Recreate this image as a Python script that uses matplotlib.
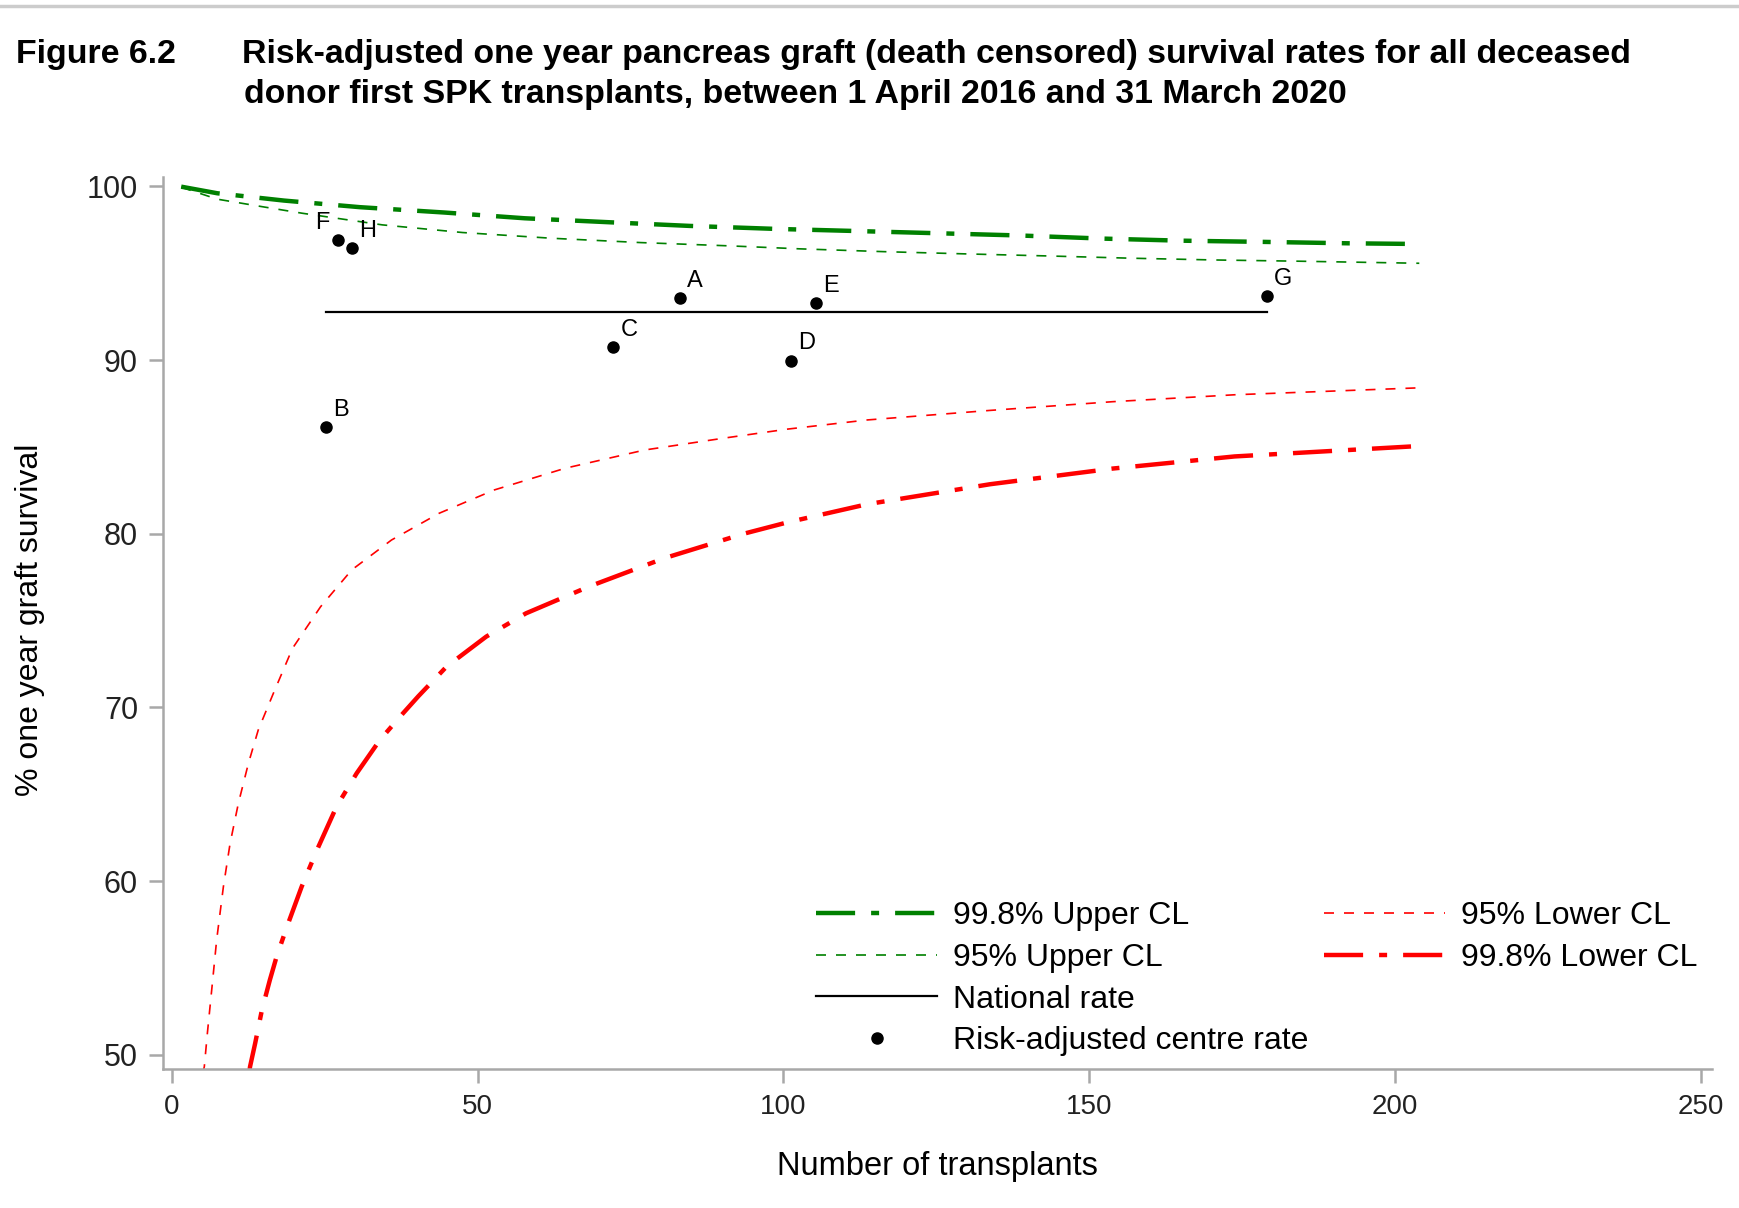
import matplotlib
matplotlib.use("Agg")
import matplotlib.pyplot as plt
from matplotlib.lines import Line2D

plt.rcParams['font.family'] = ['Liberation Sans', 'DejaVu Sans']

# centre results (number of transplants, risk-adjusted % survival)
centres = ['A', 'B', 'C', 'D', 'E', 'F', 'G', 'H']
centre_n = [83.1, 25.2, 72.2, 101.2, 105.3, 27.2, 179.1, 29.4]
centre_rate = [93.56, 86.13, 90.74, 89.97, 93.27, 96.91, 93.69, 96.47]
national_rate = 92.79

# funnel limits
upper998_n = [1.5, 7.4, 18.3, 30.7, 44.6, 57.7, 71.6, 84.7, 98.6, 111.5, 125.1, 138.6, 152.2, 165.1, 178.7, 192.3, 204]
upper998_y = [99.98, 99.6, 99.18, 98.80, 98.49, 98.16, 97.93, 97.72, 97.55, 97.43, 97.30, 97.17, 96.99, 96.87, 96.80, 96.72, 96.68]

upper95_n = [1.5, 7.4, 14.7, 21.3, 34.4, 47.5, 62.1, 76.7, 91.3, 102.7, 116.3, 129.8, 143.4, 157.0, 170.5, 184.1, 204]
upper95_y = [99.95, 99.26, 98.83, 98.45, 97.78, 97.34, 97.01, 96.76, 96.57, 96.40, 96.24, 96.11, 95.99, 95.86, 95.76, 95.69, 95.57]

lower95_n = [5.0, 5.28, 5.78, 6.49, 7.3, 8.4, 9.5, 10.85, 12.5, 14.1, 16.5, 19.7, 24.3, 29.4, 35.9,
             43.7, 52.7, 64.3, 77.3, 90.2, 100.6, 113.7, 133.8, 153.8, 173.8, 204]
lower95_y = [48.9, 49.32, 51.24, 53.74, 56.62, 59.68, 62.18, 64.48, 66.79, 68.7, 70.75, 73.4, 75.8, 77.92, 79.64,
             81.18, 82.52, 83.77, 84.82, 85.50, 86.02, 86.55, 87.1, 87.6, 88.0, 88.4]

lower998_n = [12.6, 12.76, 13.6, 14.7, 16.0, 17.1, 18.8, 21.2, 23.7, 26.9, 30.2, 34.0, 37.8, 40.3, 44.9,
              51.4, 57.9, 68.2, 80.5, 93.5, 100.6, 113.7, 133.8, 153.8, 173.8, 204]
lower998_y = [48.9, 49.32, 50.67, 52.58, 54.31, 55.65, 57.38, 59.68, 61.79, 64.29, 66.21, 68.13, 69.67, 70.65, 72.35,
              74.08, 75.42, 76.96, 78.59, 80.0, 80.65, 81.7, 82.85, 83.75, 84.45, 85.05]

green = '#008000'
red = '#ff0000'
grey = '#a8a8a8'

fig = plt.figure(figsize=(17.4, 12.08), dpi=100)
ax = fig.add_axes([0.0937, 0.1154, 0.8903, 0.7377])

thick = 3.2
thin = 1.2
dashdot = (0, (8.8, 3.6, 1.8, 3.6))
dashed = (0, (6, 6))

l1, = ax.plot(upper998_n, upper998_y, color=green, lw=thick, linestyle=dashdot)
l2, = ax.plot(upper95_n, upper95_y, color=green, lw=thin, linestyle=dashed)
l5, = ax.plot(lower95_n, lower95_y, color=red, lw=thin, linestyle=dashed)
l6, = ax.plot(lower998_n, lower998_y, color=red, lw=thick, linestyle=dashdot)
l3, = ax.plot([min(centre_n), max(centre_n)], [national_rate, national_rate],
              color='black', lw=1.6)
l4, = ax.plot(centre_n, centre_rate, 'o', color='black', ms=8, linestyle='none')

for name, n, r in zip(centres, centre_n, centre_rate):
    if name == 'F':
        ax.annotate(name, (n, r), xytext=(-6, 8), textcoords='offset points',
                    fontsize=17, ha='right', va='baseline')
    else:
        ax.annotate(name, (n, r), xytext=(5, 8), textcoords='offset points',
                    fontsize=17, ha='left', va='baseline')

ax.set_xlim(-1.47, 251.9)
ax.set_ylim(49.21, 100.51)
ax.set_xticks([0, 50, 100, 150, 200, 250])
ax.set_yticks([50, 60, 70, 80, 90, 100])

for s in ['top', 'right']:
    ax.spines[s].set_visible(False)
for s in ['left', 'bottom']:
    ax.spines[s].set_color(grey)
    ax.spines[s].set_linewidth(1.8)
ax.tick_params(axis='both', colors=grey, length=10, width=1.8,
               labelcolor='#222222', pad=8)
ax.tick_params(axis='x', labelsize=20)
ax.tick_params(axis='y', labelsize=22)

fig.text(0.5388, 1 - 1167 / 1208, 'Number of transplants', fontsize=23.5,
         ha='center', va='center')
fig.text(30 / 1740, 1 - 620 / 1208, '% one year graft survival', fontsize=23,
         ha='center', va='center', rotation=90)

# title
fig.text(16 / 1740, 1 - 54 / 1208, 'Figure 6.2', fontsize=24.4, fontweight='bold',
         ha='left', va='center')
fig.text(242 / 1740, 1 - 54 / 1208,
         'Risk-adjusted one year pancreas graft (death censored) survival rates for all deceased',
         fontsize=24.4, fontweight='bold', ha='left', va='center')
fig.text(244 / 1740, 1 - 94 / 1208,
         'donor first SPK transplants, between 1 April 2016 and 31 March 2020',
         fontsize=24.4, fontweight='bold', ha='left', va='center')

# thin grey rule at the very top
fig.add_artist(Line2D([0, 1], [1 - 6 / 1208, 1 - 6 / 1208], color='#cccccc',
                      lw=2.5, transform=fig.transFigure))

leg_kw = dict(frameon=False, fontsize=23, handlelength=3.8, handletextpad=0.5,
              labelspacing=0.37, borderpad=0, borderaxespad=0, loc='upper left')
leg1 = fig.legend([l1, l2, l3, l4],
                  ['99.8% Upper CL', '95% Upper CL', 'National rate',
                   'Risk-adjusted centre rate'],
                  bbox_to_anchor=(816 / 1740, 1 - 901 / 1208), **leg_kw)
leg2 = fig.legend([l5, l6], ['95% Lower CL', '99.8% Lower CL'],
                  bbox_to_anchor=(1324 / 1740, 1 - 901 / 1208), **leg_kw)

fig.savefig('out.png', dpi=100)
